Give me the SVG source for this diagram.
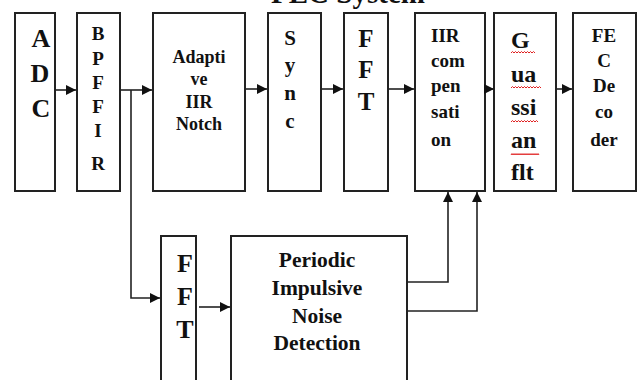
<svg xmlns="http://www.w3.org/2000/svg" width="638" height="380" viewBox="0 0 638 380">
<defs>
<marker id="ah" viewBox="0 0 10 10" refX="10" refY="5" markerWidth="12" markerHeight="10" markerUnits="userSpaceOnUse" orient="auto">
<path d="M0,0 L10,5 L0,10 z" fill="#111"/>
</marker>
<style>
.box{fill:#fff;stroke:#222;stroke-width:2}
.t{font-family:"Liberation Serif","Times New Roman",serif;font-weight:bold;fill:#111}
.c{text-anchor:middle}
.conn{fill:none;stroke:#222;stroke-width:1.6}
.sq{fill:none;stroke:#e02020;stroke-width:1}
</style>
</defs>
<rect width="638" height="380" fill="#fff"/>
<text class="t c" x="348" y="3" font-size="29">FEC System</text>

<g id="adc"><rect class="box" x="15" y="13" width="40" height="178"/>
<text class="t c" x="41" y="47" font-size="26">A</text><text class="t c" x="40" y="82" font-size="26">D</text><text class="t c" x="41" y="117" font-size="26">C</text></g>

<g id="bpffir"><rect class="box" x="77" y="13" width="43" height="178"/>
<g class="t c" font-size="19"><text x="98" y="40">B</text><text x="98" y="65">P</text><text x="98" y="89">F</text><text x="98" y="113">F</text><text x="98" y="137">I</text><text x="98" y="170">R</text></g></g>

<g id="notch"><rect class="box" x="153" y="13" width="92" height="178"/>
<g class="t c" font-size="18"><text x="199" y="63">Adapti</text><text x="199" y="85">ve</text><text x="199" y="108">IIR</text><text x="199" y="130">Notch</text></g></g>

<g id="sync"><rect class="box" x="268" y="13" width="53" height="178"/>
<g class="t c" font-size="21"><text x="290" y="45">S</text><text x="290" y="72">y</text><text x="290" y="100">n</text><text x="290" y="128">c</text></g></g>

<g id="fft1"><rect class="box" x="344" y="13" width="44" height="178"/>
<g class="t c" font-size="25"><text x="366" y="47">F</text><text x="366" y="78">F</text><text x="366" y="110">T</text></g></g>

<g id="iircomp"><rect class="box" x="415" y="13" width="70" height="178"/>
<g class="t" font-size="19"><text x="431" y="42">IIR</text><text x="431" y="67">com</text><text x="431" y="92">pen</text><text x="431" y="118">sati</text><text x="431" y="146">on</text></g></g>

<g id="gauss"><rect class="box" x="494" y="13" width="62" height="178"/>
<g class="t" font-size="24"><text x="511" y="48">G</text><text x="511" y="82">ua</text><text x="511" y="115">ssi</text><text x="511" y="148">an</text><text x="511" y="180">flt</text></g>
<path class="sq" d="M511,53 l1.5,-1.5 l1.5,1.5 l1.5,-1.5 l1.5,1.5 l1.5,-1.5 l1.5,1.5 l1.5,-1.5 l1.5,1.5 l1.5,-1.5 l1.5,1.5 l1.5,-1.5 l1.5,1.5 l1.5,-1.5 l1.5,1.5 l1.5,-1.5 l1.5,1.5"/>
<path class="sq" d="M511,88 l1.5,-1.5 l1.5,1.5 l1.5,-1.5 l1.5,1.5 l1.5,-1.5 l1.5,1.5 l1.5,-1.5 l1.5,1.5 l1.5,-1.5 l1.5,1.5 l1.5,-1.5 l1.5,1.5 l1.5,-1.5 l1.5,1.5 l1.5,-1.5 l1.5,1.5 l1.5,-1.5 l1.5,1.5 l1.5,-1.5 l1.5,1.5"/>
<path class="sq" d="M511,122 l1.5,-1.5 l1.5,1.5 l1.5,-1.5 l1.5,1.5 l1.5,-1.5 l1.5,1.5 l1.5,-1.5 l1.5,1.5 l1.5,-1.5 l1.5,1.5 l1.5,-1.5 l1.5,1.5 l1.5,-1.5 l1.5,1.5 l1.5,-1.5 l1.5,1.5 l1.5,-1.5 l1.5,1.5"/>
<path class="sq" d="M511,155 l1,-1.5 l1,1.5 l1,-1.5 l1,1.5 l1,-1.5 l1,1.5 l1,-1.5 l1,1.5 l1,-1.5 l1,1.5 l1,-1.5 l1,1.5 l1,-1.5 l1,1.5 l1,-1.5 l1,1.5 l1,-1.5 l1,1.5 l1,-1.5 l1,1.5 l1,-1.5 l1,1.5 l1,-1.5 l1,1.5 l1,-1.5 l1,1.5 l1,-1.5 l1,1.5"/></g>

<g id="fec"><rect class="box" x="573" y="13" width="63" height="178"/>
<g class="t c" font-size="19"><text x="604" y="42">FE</text><text x="604" y="67">C</text><text x="604" y="92">De</text><text x="604" y="118">co</text><text x="604" y="146">der</text></g></g>

<g id="fft2"><rect class="box" x="161" y="236" width="35" height="160"/>
<g class="t c" font-size="26"><text x="185" y="272">F</text><text x="185" y="305">F</text><text x="185" y="338">T</text></g></g>

<g id="pind"><rect class="box" x="231" y="236" width="176" height="160"/>
<g class="t c" font-size="21.5"><text x="317" y="267">Periodic</text><text x="317" y="295">Impulsive</text><text x="317" y="323">Noise</text><text x="317" y="350">Detection</text></g></g>

<g id="connectors">
<path class="conn" d="M54,90 H76" marker-end="url(#ah)"/>
<path class="conn" d="M120,90 H152" marker-end="url(#ah)"/>
<path class="conn" d="M245,89 H267" marker-end="url(#ah)"/>
<path class="conn" d="M321,89 H343" marker-end="url(#ah)"/>
<path class="conn" d="M388,89 H414" marker-end="url(#ah)"/>
<path class="conn" d="M485,89 H494" marker-end="url(#ah)"/>
<path class="conn" d="M556,89 H572" marker-end="url(#ah)"/>
<path class="conn" d="M131,90 V298 H160" marker-end="url(#ah)"/>
<path class="conn" d="M199,307 H230" marker-end="url(#ah)"/>
<path class="conn" d="M407,282 H448 V192" marker-end="url(#ah)"/>
<path class="conn" d="M407,311 H477 V192" marker-end="url(#ah)"/>
</g>
</svg>
